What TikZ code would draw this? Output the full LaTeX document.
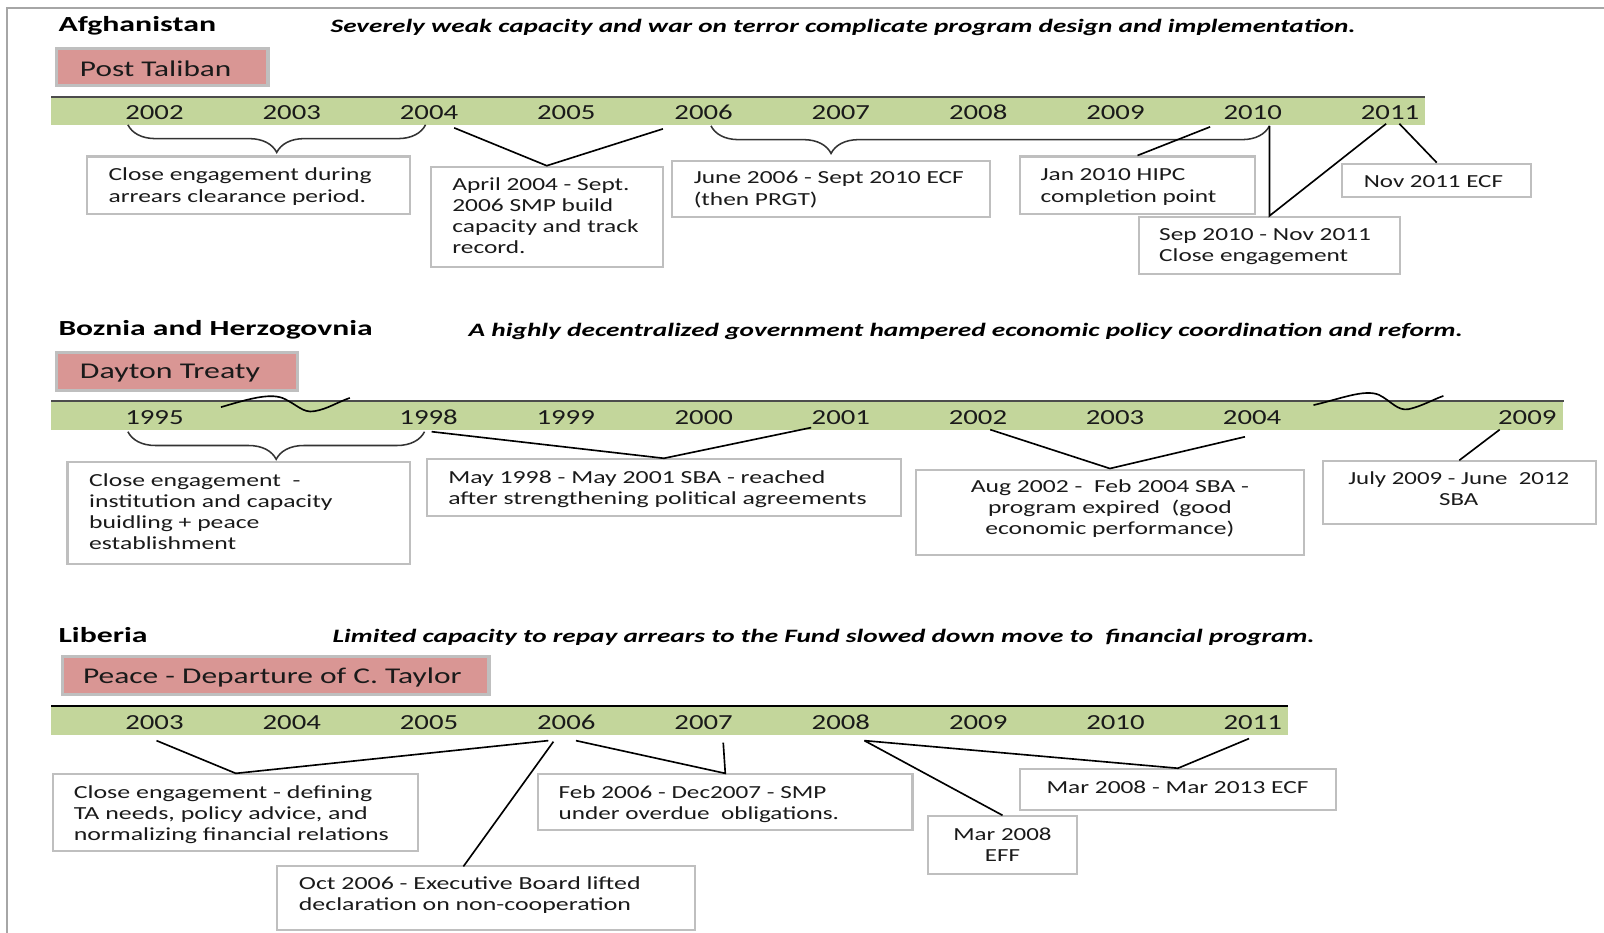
\documentclass[tikz,border=0pt]{standalone}
\usepackage{fontspec}
\setmainfont{Carlito}
\usepackage{graphicx}
\usetikzlibrary{decorations.pathreplacing}
\definecolor{pinkfill}{HTML}{D99694}
\definecolor{bandgreen}{HTML}{C3D69B}
\definecolor{boxgray}{HTML}{BFBFBF}
\definecolor{framegray}{HTML}{A6A6A6}
\definecolor{ink}{HTML}{1A1A1A}
\newbox\fitbox
\newdimen\fitlen
\newcommand\fitw[2]{\setbox\fitbox=\hbox{#2}\fitlen=\wd\fitbox\pgfmathsetmacro\fitsx{#1/\fitlen}\scalebox{\fitsx}[1]{\box\fitbox}}
\newcommand\mkbox[6][box]{\node[#1, minimum width={#5-#3}, minimum height={#6-#4}] (#2) at ({(#3+#5)/2},{(#4+#6)/2}) {};}
\newcommand\lft[1]{\begin{tabular}{@{}l@{}}#1\end{tabular}}
\newcommand\ctr[1]{\begin{tabular}{@{}c@{}}#1\end{tabular}}
\tikzset{
 box/.style={draw=boxgray, line width=2pt, fill=white, inner sep=0pt, rectangle},
 era/.style={draw=boxgray, line width=3pt, fill=pinkfill, inner sep=0pt, rectangle},
 band/.style={fill=bandgreen, inner sep=0pt, anchor=north west},
 bandline/.style={line width=1.5pt, draw=black!70},
 yr/.style={inner sep=0pt, text=ink, font=\fontsize{21}{25}\selectfont},
 txt/.style={inner sep=0pt, text=ink, anchor=west, font=\fontsize{18}{20.7}\selectfont},
 ctxt/.style={inner sep=0pt, text=ink, font=\fontsize{18}{20.7}\selectfont},
 eratxt/.style={inner sep=0pt, text=ink, anchor=west, font=\fontsize{22}{26}\selectfont},
 ttl/.style={inner sep=0pt, text=black, anchor=west, font=\bfseries\fontsize{21}{25}\selectfont},
 subttl/.style={inner sep=0pt, text=black, anchor=west, font=\bfseries\itshape\fontsize{18.5}{22}\selectfont},
 conn/.style={line width=1.6pt, draw=black},
 brc/.style={decorate, decoration={brace, mirror, amplitude=27pt, #1}, line width=1.5pt, draw=black!80},
 brc/.default={aspect=0.5},
}
\begin{document}
\begin{tikzpicture}[x=1pt,y=-1pt]
\useasboundingbox (0,0) rectangle (1568,912);
\fill[white] (0,0) rectangle (1568,912);
\draw[framegray, line width=1.5pt] (7,912) -- (7,8) -- (1568,8);

% ---------------- Afghanistan
\node[ttl] (t1) at (57,25) {\fitw{154}{Afghanistan}};
\node[subttl] (s1) at (323,27) {\fitw{1002}{Severely weak capacity and war on terror complicate program design and implementation.}};
\mkbox[era]{P1}{55}{47}{262}{84}
\node[eratxt] (p1t) at (78,67) {\fitw{148}{Post Taliban}};
\node[band, minimum width=1343, minimum height=27] (band1) at (50,95) {};
\draw[bandline] (band1.north west) -- (band1.north east);
\foreach \yr [count=\i from 0] in {2002,2003,2004,2005,2006,2007,2008,2009,2010,2011}
  \node[yr] (yA\yr) at ({151+134.2*\i},110) {\fitw{57}{\yr}};

\mkbox{A1}{85}{153}{401}{209}
\node[txt] (tA1) at (106,183) {\fitw{257}{\lft{Close engagement during\\arrears clearance period.}}};
\mkbox{A2}{421}{163}{648}{261}
\node[txt] (tA2) at (442,213) {\fitw{182}{\lft{April 2004 - Sept.\\2006 SMP build\\capacity and track\\record.}}};
\mkbox{B1}{657}{157}{968}{212}
\node[txt] (tB1) at (678,186) {\fitw{264}{\lft{June 2006 - Sept 2010 ECF\\(then PRGT)}}};
\mkbox{B2}{997}{153}{1227}{209}
\node[txt] (tB2) at (1017,183) {\fitw{172}{\lft{Jan 2010 HIPC\\completion point}}};
\mkbox{B3}{1113}{212}{1369}{268}
\node[txt] (tB3) at (1133,241) {\fitw{207}{\lft{Sep 2010 - Nov 2011\\Close engagement}}};
\mkbox{B4}{1312}{160}{1497}{193}
\node[txt] (tB4) at (1333,178) {\fitw{136}{Nov 2011 ECF}};

\coordinate (bA1) at (125,122);
\coordinate (bA2) at (416,122);
\draw[brc] (bA1) -- (bA2);
\coordinate (bB1) at (695,123);
\coordinate (bB2) at (1241,123);
\draw[brc={aspect=0.215}] (bB1) -- (bB2);
\coordinate (cA2a) at (444,125);
\coordinate (cA2b) at (648,126);
\draw[conn] (cA2a) -- (A2.north) -- (cA2b);
\coordinate (cB2) at (1183,124);
\draw[conn] (cB2) -- (B2.north);
\coordinate (cB3a) at (1241,123);
\coordinate (cB3b) at (1355,121);
\draw[conn] (cB3a) -- (B3.north) -- (cB3b);
\coordinate (cB4) at (1368,121);
\draw[conn] (cB4) -- (B4.north);

% ---------------- Bosnia
\node[ttl] (t2) at (57,322) {\fitw{307}{Boznia and Herzogovnia}};
\node[subttl] (s2) at (458,324) {\fitw{972}{A highly decentralized government hampered economic policy coordination and reform.}};
\mkbox[era]{P2}{55}{345}{291}{382}
\node[eratxt] (p2t) at (78,365) {\fitw{176}{Dayton Treaty}};
\node[band, minimum width=1478, minimum height=28] (band2) at (50,392) {};
\draw[bandline] (band2.north west) -- (band2.north east);
\foreach \yr/\xx in {1995/151,1998/419,1999/553,2000/688,2001/822,2002/956,2003/1090,2004/1224,2009/1493}
  \node[yr] (yB\yr) at (\xx,408) {\fitw{57}{\yr}};
\draw[line width=1.6pt] (216,398) .. controls (240,391) and (262,384) .. (276,389) .. controls (290,395) and (296,404) .. (307,402) .. controls (320,400) and (330,393) .. (342,389);
\draw[line width=1.6pt] (1284,396) .. controls (1310,390) and (1334,380) .. (1348,386) .. controls (1360,392) and (1366,402) .. (1377,400) .. controls (1390,397) and (1400,391) .. (1411,387);

\mkbox{C1}{66}{452}{401}{551}
\node[txt] (tC1) at (87,502) {\fitw{238}{\lft{Close engagement~ -\\institution and capacity\\buidling + peace\\establishment}}};
\mkbox{C2}{417}{449}{881}{504}
\node[txt] (tC2) at (438,479) {\fitw{409}{\lft{May 1998 - May 2001 SBA - reached\\after strengthening political agreements}}};
\mkbox{C3}{895}{459}{1275}{543}
\node[ctxt] (tC3) at (1085,498) {\fitw{272}{\ctr{Aug 2002 -~ Feb 2004 SBA -\\program expired~ (good\\economic performance)}}};
\mkbox{C4}{1293}{451}{1560}{512}
\node[ctxt] (tC4) at (1426,480) {\fitw{216}{\ctr{July 2009 - June~ 2012\\SBA}}};

\coordinate (bC1) at (125,422);
\coordinate (bC2) at (415,422);
\draw[brc] (bC1) -- (bC2);
\coordinate (cC2a) at (422,422);
\coordinate (cC2b) at (793,418);
\draw[conn] (cC2a) -- (C2.north) -- (cC2b);
\coordinate (cC3a) at (968,420);
\coordinate (cC3b) at (1217,427);
\draw[conn] (cC3a) -- (C3.north) -- (cC3b);
\coordinate (cC4) at (1466,420);
\draw[conn] (cC4) -- (C4.north);

% ---------------- Liberia
\node[ttl] (t3) at (57,621) {\fitw{87}{Liberia}};
\node[subttl] (s3) at (325,623) {\fitw{960}{Limited capacity to repay arrears to the Fund slowed down move to~ financial program.}};
\mkbox[era]{P3}{61}{642}{478}{679}
\node[eratxt] (p3t) at (81,662) {\fitw{370}{Peace - Departure of C. Taylor}};
\node[band, minimum width=1209, minimum height=28] (band3) at (50,690) {};
\draw[line width=2.5pt, draw=black] (band3.north west) -- (band3.north east);
\foreach \yr [count=\i from 0] in {2003,2004,2005,2006,2007,2008,2009,2010,2011}
  \node[yr] (yC\yr) at ({151+134.2*\i},706) {\fitw{57}{\yr}};

\mkbox{D1}{52}{757}{409}{832}
\node[txt] (tD1) at (72,797) {\fitw{308}{\lft{Close engagement - defining\\TA needs, policy advice, and\\normalizing financial relations}}};
\mkbox{D2}{271}{847}{679}{909}
\node[txt] (tD2) at (292,876) {\fitw{334}{\lft{Oct 2006 - Executive Board lifted\\declaration on non-cooperation}}};
\mkbox{D3}{526}{757}{892}{811}
\node[txt] (tD3) at (546,787) {\fitw{274}{\lft{Feb 2006 - Dec2007 - SMP\\under overdue~ obligations.}}};
\mkbox{D4}{907}{798}{1053}{854}
\node[ctxt] (tD4) at (980,828) {\fitw{96}{\ctr{Mar 2008\\EFF}}};
\mkbox{E1}{997}{752}{1306}{792}
\node[ctxt] (tE1) at (1151,770) {\fitw{256}{Mar 2008 - Mar 2013 ECF}};

\coordinate (cD1a) at (153,724);
\coordinate (cD1b) at (536,724);
\draw[conn] (cD1a) -- (D1.north) -- (cD1b);
\coordinate (cD2a) at (541,725);
\coordinate (cD2b) at (453,847);
\draw[conn] (cD2a) -- (cD2b);
\coordinate (cD3a) at (563,724);
\coordinate (cD3b) at (707,726);
\draw[conn] (cD3a) -- (D3.north) -- (cD3b);
\coordinate (cD4) at (845,724);
\draw[conn] (cD4) -- (D4.north);
\coordinate (cE1b) at (1221,722);
\draw[conn] (cD4) -- (E1.north) -- (cE1b);
\end{tikzpicture}
\end{document}
